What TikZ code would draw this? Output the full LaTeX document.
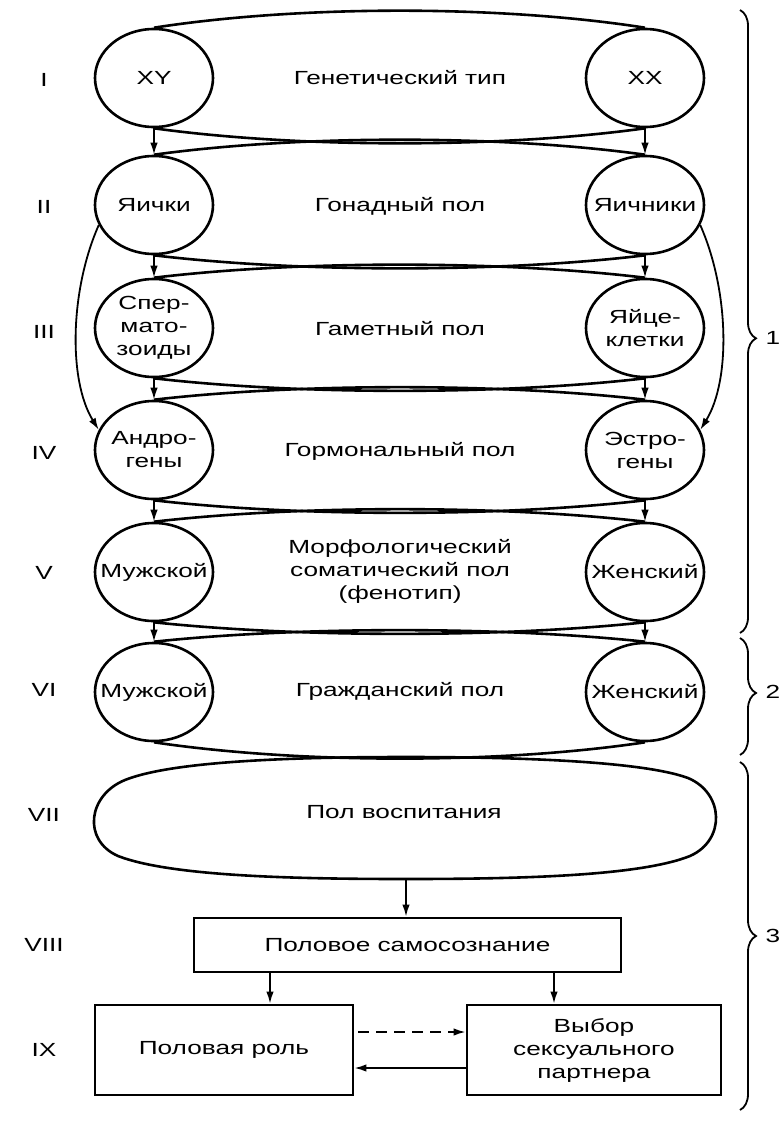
\documentclass[tikz,border=0pt]{standalone}
\usepackage{fontspec}
\setmainfont[FakeStretch=1.38]{Liberation Sans}
\usetikzlibrary{shapes.geometric,arrows.meta,decorations.pathreplacing}
\begin{document}
\begin{tikzpicture}[x=1pt,y=-1pt,
  every node/.style={font=\fontsize{19}{23}\selectfont, inner sep=0pt},
  ell/.style={ellipse, draw, line width=2.6pt, minimum width=118pt, minimum height=98pt},
  txt/.style={align=center},
  band/.style={line width=2.6pt},
  arr/.style={line width=1.8pt, -{Latex[length=12pt,width=7.5pt]}},
  box/.style={draw, line width=2.8pt, align=center},
  brc/.style={line width=1.8pt, decorate},
]
\useasboundingbox (0,0) rectangle (783,1122);
\fill[white] (0,0) rectangle (783,1122);

% circles
\node[ell] (L1) at (154,78) {};  \node[ell] (R1) at (645,78) {};
\node[ell] (L2) at (154,205) {}; \node[ell] (R2) at (645,205) {};
\node[ell] (L3) at (154,328) {}; \node[ell] (R3) at (645,328) {};
\node[ell] (L4) at (154,450) {}; \node[ell] (R4) at (645,450) {};
\node[ell] (L5) at (154,572) {}; \node[ell] (R5) at (645,572) {};
\node[ell] (L6) at (154,692) {}; \node[ell] (R6) at (645,692) {};

\node[txt] (L1t) at (L1) {XY};
\node[txt] (R1t) at (R1) {XX};
\node[txt] (L2t) at (L2) {Яички};
\node[txt] (R2t) at (R2) {Яичники};
\node[txt] (L3t) at (L3) {Спер-\\мато-\\зоиды};
\node[txt] (R3t) at (R3) {Яйце-\\клетки};
\node[txt] (L4t) at (L4) {Андро-\\гены};
\node[txt] (R4t) at (R4) {Эстро-\\гены};
\node[txt] (L5t) at (L5) {Мужской};
\node[txt] (R5t) at (R5) {Женский};
\node[txt] (L6t) at (L6) {Мужской};
\node[txt] (R6t) at (R6) {Женский};

% central texts
\node[txt] (C1) at (400,78) {Генетический тип};
\node[txt] (C2) at (400,206) {Гонадный пол};
\node[txt] (C3) at (400,329) {Гаметный пол};
\node[txt] (C4) at (400,451) {Гормональный пол};
\node[txt] (C5) at (400,571) {Морфологический\\соматический пол\\(фенотип)};
\node[txt] (C6) at (400,691) {Гражданский пол};

% band outlines
\draw[band] (L1.north) .. controls (300,5) and (500,5) .. (R1.north);
\draw[band] (L1.south) .. controls (300,148.3) and (500,148.3) .. (R1.south);
\draw[band] (L2.north) .. controls (300,134.7) and (500,134.7) .. (R2.north);
\draw[band] (L2.south) .. controls (300,272.7) and (500,272.7) .. (R2.south);
\draw[band] (L3.north) .. controls (300,260.3) and (500,260.3) .. (R3.north);
\draw[band] (L3.south) .. controls (300,395) and (500,395) .. (R3.south);
\draw[band] (L4.north) .. controls (300,383) and (500,383) .. (R4.north);
\draw[band] (L4.south) .. controls (300,517) and (500,517) .. (R4.south);
\draw[band] (L5.north) .. controls (300,505) and (500,505) .. (R5.north);
\draw[band] (L5.south) .. controls (300,637.7) and (500,637.7) .. (R5.south);
\draw[band] (L6.north) .. controls (300,626.3) and (500,626.3) .. (R6.north);
\draw[band] (L6.south) .. controls (300,764) and (500,764) .. (R6.south);

% VII shape
\draw[band, line join=round] (406,757) .. controls (260,757) and (165,764) .. (125,780)
  .. controls (88,795) and (82,840) .. (118,856)
  .. controls (170,876) and (290,879) .. (406,879)
  .. controls (520,879) and (640,876) .. (690,856)
  .. controls (726,840) and (724,793) .. (688,778)
  .. controls (650,764) and (552,757) .. (406,757) -- cycle;
\node[txt] (P7) at (404,812) {Пол воспитания};
\coordinate (P7b) at (406,879);

% vertical arrows between circles
\foreach \a/\b in {1/2,2/3,3/4,4/5,5/6}{
  \draw[arr] (L\a.south) -- (L\b.north);
  \draw[arr] (R\a.south) -- (R\b.north);
}
% curved arrows
\draw[arr] (L2.200) .. controls (70,290) and (68,380) .. (L4.160);
\draw[arr] (R2.340) .. controls (729,290) and (731,380) .. (R4.20);

% boxes
\node[box, minimum width=427pt, minimum height=54pt] (S8) at (407.5,945) {Половое самосознание};
\node[box, minimum width=258pt, minimum height=90pt] (B1) at (224,1050) {Половая роль};
\node[box, minimum width=254pt, minimum height=90pt] (B2) at (594,1050) {Выбор\\сексуального\\партнера};

\draw[arr] (P7b) -- (P7b |- S8.north);
\draw[arr] ([xshift=-137.5pt]S8.south) -- ([xshift=-137.5pt]S8.south |- B1.north);
\draw[arr] ([xshift=146.5pt]S8.south) -- ([xshift=146.5pt]S8.south |- B2.north);
\draw[arr, dash pattern=on 11pt off 7pt, shorten <=4pt] ([yshift=18pt]B1.east) -- ([yshift=18pt]B1.east -| B2.west);
\draw[arr] ([yshift=-18pt]B2.west) -- ([yshift=-18pt]B2.west -| B1.east);

% roman labels
\node (r1) at (44,80) {I};
\node (r2) at (44,207) {II};
\node (r3) at (44,332) {III};
\node (r4) at (44,453) {IV};
\node (r5) at (44,573) {V};
\node (r6) at (44,690) {VI};
\node (r7) at (44,815) {VII};
\node (r8) at (44,945) {VIII};
\node (r9) at (44,1050) {IX};

% braces
\draw[brc, decoration={brace, amplitude=16pt, aspect=0.527}] (740,10) -- (740,633);
\draw[brc, decoration={brace, amplitude=16pt, aspect=0.47}] (740,638) -- (740,755);
\draw[brc, decoration={brace, amplitude=16pt, aspect=0.5}] (740,762) -- (740,1110);
\node (n1) at (773,338) {1};
\node (n2) at (773,692) {2};
\node (n3) at (773,936) {3};
\end{tikzpicture}
\end{document}
